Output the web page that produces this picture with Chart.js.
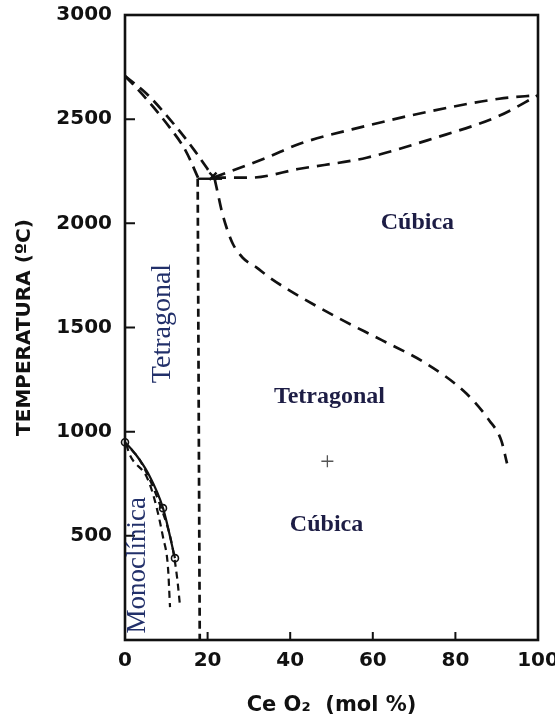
<!DOCTYPE html>
<html>
<head>
<meta charset="utf-8">
<script src="https://cdn.jsdelivr.net/npm/chart.js@4/dist/chart.umd.min.js"></script>
<style>
  html, body { margin: 0; padding: 0; background: #fff; }
  #c { display: block; }
</style>
</head>
<body>
<canvas id="c" width="555" height="716"></canvas>
<script>
// ZrO2–CeO2 phase diagram: temperature (ºC) against CeO2 content (mol %)

const xTickValues = [0, 20, 40, 60, 80, 100];
const yTickValues = [500, 1000, 1500, 2000, 2500, 3000];

// liquidus / solidus pair falling from pure ZrO2 to the eutectoid-like point
const leftLowerBranch = [[0, 2707], [4.1, 2621], [10.9, 2458], [14.7, 2348], [17.8, 2214]];
const leftUpperBranch = [[0, 2707], [5.3, 2621], [12.6, 2458], [16.9, 2348], [21.3, 2223]];

// liquidus / solidus pair rising towards pure CeO2
const rightLiquidus = [[21.3, 2219], [34.3, 2315], [42.3, 2382], [58.5, 2468], [74.4, 2540], [90.6, 2598], [100, 2615]];
const rightSolidus  = [[21.3, 2219], [30.2, 2219], [42.3, 2262], [58.5, 2315], [74.4, 2406], [90.6, 2516], [100, 2615]];

// short tie line at the junction and the vertical tetragonal boundary
const tieLine = [[17.6, 2214], [23.5, 2214]];
const tetragonalLimit = [[17.6, 2214], [18.1, 0]];
const junctionPoint = [[21.3, 2226]];

// tetragonal / cubic boundary
const cubicBoundary = [[21.7, 2214], [22.5, 2142], [23.4, 2061], [24.6, 1979], [26.1, 1902], [28.5, 1835],
  [31.9, 1787], [35.0, 1740], [39.9, 1677], [51.9, 1543], [62.3, 1438], [72.9, 1327],
  [82.6, 1184], [88.2, 1054], [91.1, 958], [92.5, 848]];

// monoclinic / tetragonal transformation curves
const monoSolid = [[0, 949], [2.4, 896], [5.6, 800], [9.2, 633], [12.1, 393]];
const monoSolidPoints = [[0, 949], [9.2, 633], [12.1, 393]];
const monoDashedA = [[0.3, 940], [1.2, 887], [5.3, 781], [7.2, 671], [9.2, 494], [10.4, 350], [10.9, 158]];
const monoDashedB = [[1.5, 915], [3.6, 863], [8.5, 647], [11.4, 455], [12.6, 302], [13.3, 168]];

const crossMark = [[49, 858]];

const toXY = arr => arr.map(([x, y]) => ({ x, y }));

const INK = '#111';
const dashed = (data, dash, extra) => Object.assign({
  data: toXY(data), showLine: true, borderColor: INK, borderWidth: 2.7,
  borderDash: dash, pointRadius: 0, cubicInterpolationMode: 'monotone', fill: false
}, extra || {});

// frame and inward tick marks
const framePlugin = {
  id: 'frame',
  afterDatasetsDraw(chart) {
    const { ctx, chartArea: a, scales: { x, y } } = chart;
    ctx.save();
    ctx.strokeStyle = INK;
    ctx.lineWidth = 2.6;
    ctx.strokeRect(a.left, a.top, a.right - a.left, a.bottom - a.top);
    ctx.lineWidth = 2;
    ctx.beginPath();
    xTickValues.slice(1, -1).forEach(v => {
      const px = x.getPixelForValue(v);
      ctx.moveTo(px, a.bottom); ctx.lineTo(px, a.bottom - 8);
    });
    yTickValues.slice(0, -1).forEach(v => {
      const py = y.getPixelForValue(v);
      ctx.moveTo(a.left, py); ctx.lineTo(a.left + 10, py);
    });
    ctx.stroke();
    ctx.restore();
  }
};

// phase field names
const phaseLabels = [
  { text: 'Cúbica', x: 70.8, y: 2003, rot: 0, font: 'bold 24px "Liberation Serif"', color: '#1d1d45' },
  { text: 'Tetragonal', x: 49.5, y: 1169, rot: 0, font: 'bold 24px "Liberation Serif"', color: '#1d1d45' },
  { text: 'Cúbica', x: 48.8, y: 551, rot: 0, font: 'bold 24px "Liberation Serif"', color: '#1d1d45' },
  { text: 'Tetragonal', x: 9.2, y: 1519, rot: -Math.PI / 2, font: '28px "Liberation Serif"', color: '#22306a' },
  { text: 'Monoclínica', x: 3.1, y: 359, rot: -Math.PI / 2, font: '27px "Liberation Serif"', color: '#22306a' }
];

const labelPlugin = {
  id: 'phaseLabels',
  afterDraw(chart) {
    const { ctx, scales: { x, y } } = chart;
    ctx.save();
    ctx.textAlign = 'center';
    ctx.textBaseline = 'middle';
    phaseLabels.forEach(l => {
      ctx.save();
      ctx.translate(x.getPixelForValue(l.x), y.getPixelForValue(l.y));
      ctx.rotate(l.rot);
      ctx.font = l.font;
      ctx.fillStyle = l.color;
      ctx.fillText(l.text, 0, 0);
      ctx.restore();
    });
    ctx.restore();
  }
};

const tickFont = { family: '"DejaVu Sans"', size: 20, weight: 'bold' };
const plainNumber = v => String(v);

new Chart(document.getElementById('c'), {
  type: 'scatter',
  data: {
    datasets: [
      dashed(leftLowerBranch, [12, 7]),
      dashed(leftUpperBranch, [12, 7]),
      dashed(rightLiquidus, [13, 8]),
      dashed(rightSolidus, [13, 8]),
      dashed(tetragonalLimit, [8, 5], { cubicInterpolationMode: 'default', tension: 0 }),
      dashed(tieLine, [], { cubicInterpolationMode: 'default', tension: 0, borderWidth: 2.4 }),
      dashed(cubicBoundary, [12, 8]),
      dashed(monoSolid, [], { borderWidth: 2.2, clip: false }),
      dashed(monoDashedA, [7, 5], { borderWidth: 2.2 }),
      dashed(monoDashedB, [7, 5], { borderWidth: 2.2 }),
      { data: toXY(monoSolidPoints), showLine: false, pointStyle: 'circle', pointRadius: 3.5,
        pointBackgroundColor: '#fff', pointBorderColor: INK, pointBorderWidth: 1.6, clip: false },
      { data: toXY(junctionPoint), showLine: false, pointStyle: 'crossRot', pointRadius: 5,
        pointBorderColor: INK, pointBorderWidth: 2.4 },
      { data: toXY(crossMark), showLine: false, pointStyle: 'cross', pointRadius: 6,
        pointBorderColor: '#555', pointBorderWidth: 1.3 }
    ]
  },
  options: {
    responsive: false,
    animation: false,
    layout: { padding: { top: 15, right: 17, left: 0, bottom: 0 } },
    plugins: { legend: { display: false }, tooltip: { enabled: false } },
    scales: {
      x: {
        type: 'linear', min: 0, max: 100,
        afterBuildTicks: s => { s.ticks = xTickValues.map(v => ({ value: v })); },
        afterFit: s => { s.height = 76; s.paddingLeft = 0; s.paddingRight = 0; },
        grid: { display: false, drawTicks: false },
        border: { display: false },
        ticks: { font: tickFont, color: INK, padding: 9, maxRotation: 0, autoSkip: false, callback: plainNumber },
        title: {
          display: true, text: 'Ce O₂  (mol %)', color: INK,
          font: { family: '"DejaVu Sans"', size: 21, weight: 'bold', lineHeight: 1 },
          padding: { top: 0, bottom: 0 }
        }
      },
      y: {
        type: 'linear', min: 0, max: 3000,
        afterBuildTicks: s => { s.ticks = yTickValues.map(v => ({ value: v })); },
        afterFit: s => { s.width = 125; s.paddingTop = 0; s.paddingBottom = 0; },
        grid: { display: false, drawTicks: false },
        border: { display: false },
        ticks: { font: tickFont, color: INK, padding: 13, autoSkip: false, callback: plainNumber },
        title: {
          display: true, text: 'TEMPERATURA (ºC)', color: INK,
          font: { family: '"DejaVu Sans"', size: 20, weight: 'bold', lineHeight: 1 },
          padding: { top: 15, bottom: 0 }
        }
      }
    }
  },
  plugins: [framePlugin, labelPlugin]
});
</script>
</body>
</html>
